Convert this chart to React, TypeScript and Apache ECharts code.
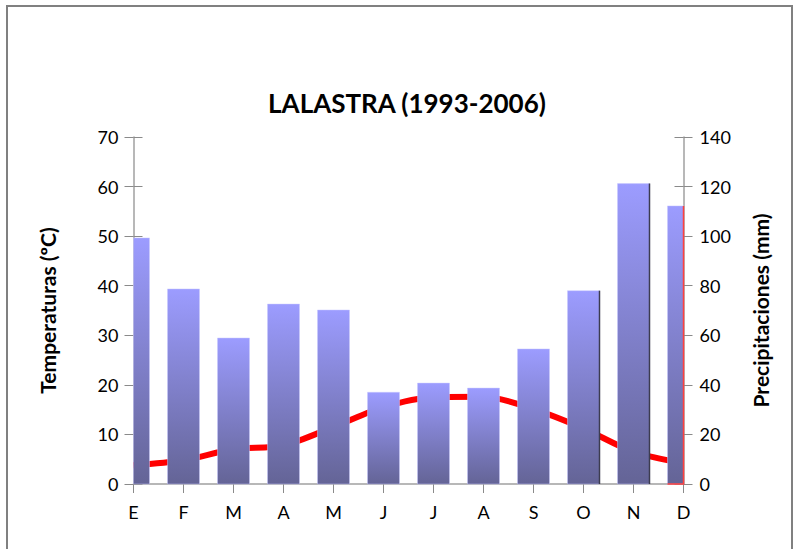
import React, { useEffect, useRef } from "react";
import * as echarts from "echarts";

// Climograph for Lalastra, monthly means 1993-2006
const months = ["E", "F", "M", "A", "M", "J", "J", "A", "S", "O", "N", "D"];
const precipitation = [99.3, 78.7, 58.9, 72.6, 70.2, 37.0, 40.7, 38.7, 54.5, 78.0, 121.2, 112.2];
const temperature = [3.8, 4.8, 7.0, 7.8, 11.5, 15.5, 17.5, 17.6, 15.1, 11.2, 6.5, 4.2];

// months whose bars carry a dark shadow edge on the right
const shadedMonths = [9, 10];

const FONT = "Lato, 'Open Sans', sans-serif";
const AXIS_GRAY = "#a0a0a0";
const TICK_GRAY = "#8a8a8a";

export default function App() {
  const ref = useRef<HTMLDivElement>(null);

  useEffect(() => {
    if (!ref.current) return;
    const chart = echarts.init(ref.current, undefined, { renderer: "svg" });

    const labelStyle = { color: "#000", fontFamily: FONT, fontSize: 18 };
    const nameStyle = { color: "#000", fontFamily: FONT, fontSize: 21, fontWeight: "bold" as const };

    // Bars centred on the month ticks, cut off at the plot edges
    const renderBar = (params: any, api: any) => {
      const idx = api.value(0);
      const top = api.coord([idx, api.value(1)]);
      const base = api.coord([idx, 0]);
      const w = api.size([1, 0])[0] * 0.64;
      const cs = params.coordSys;
      const rect = echarts.graphic.clipRectByRect(
        { x: top[0] - w / 2, y: top[1], width: w, height: base[1] - top[1] },
        { x: cs.x, y: cs.y, width: cs.width, height: cs.height }
      );
      if (!rect) return null;
      const children: any[] = [
        {
          type: "rect",
          shape: rect,
          style: {
            fill: new echarts.graphic.LinearGradient(0, 0, 0, 1, [
              { offset: 0, color: "#9c9cff" },
              { offset: 1, color: "#646496" },
            ]),
            stroke: "rgba(200,200,255,0.8)",
            lineWidth: 0.6,
          },
        },
      ];
      const right = rect.x + rect.width;
      if (shadedMonths.indexOf(params.dataIndex) >= 0) {
        children.push({
          type: "line",
          shape: { x1: right, y1: rect.y, x2: right, y2: rect.y + rect.height },
          style: { stroke: "#3c3c50", lineWidth: 1.5 },
        });
      }
      if (params.dataIndex === params.dataInsideLength - 1) {
        children.push({
          type: "polyline",
          shape: {
            points: [
              [right, rect.y],
              [right, rect.y + rect.height],
              [rect.x, rect.y + rect.height],
            ],
          },
          style: { stroke: "#ff4040", lineWidth: 1.5, fill: "none" },
        });
      }
      return { type: "group", children };
    };

    chart.setOption({
      animation: false,
      backgroundColor: "#fff",
      grid: { left: 133.5, right: 110.5, top: 137, bottom: 65, containLabel: false },
      graphic: [
        {
          type: "rect",
          shape: { x: 7, y: 6, width: 785, height: 600 },
          style: { fill: "none", stroke: "#808080", lineWidth: 2 },
          silent: true,
        },
        {
          type: "text",
          x: 407,
          y: 103,
          style: {
            text: "LALASTRA (1993-2006)",
            fontFamily: FONT,
            fontSize: 26,
            fontWeight: "bold",
            fill: "#000",
            textAlign: "center",
            textVerticalAlign: "middle",
          },
        },
      ],
      xAxis: {
        type: "category",
        data: months,
        boundaryGap: false,
        axisLine: { show: true, lineStyle: { color: AXIS_GRAY, width: 1.5 } },
        axisTick: { show: true, length: 9, lineStyle: { color: TICK_GRAY } },
        axisLabel: { ...labelStyle, margin: 19 },
        splitLine: { show: false },
      },
      yAxis: [
        {
          type: "value",
          position: "left",
          min: 0,
          max: 70,
          interval: 10,
          name: "Temperaturas (ºC)",
          nameLocation: "middle",
          nameRotate: 90,
          nameGap: 76,
          nameTextStyle: nameStyle,
          axisLine: { show: true, lineStyle: { color: AXIS_GRAY, width: 1.5 } },
          axisTick: { show: true, length: 9, lineStyle: { color: TICK_GRAY } },
          axisLabel: { ...labelStyle, margin: 15 },
          splitLine: { show: false },
        },
        {
          type: "value",
          position: "right",
          min: 0,
          max: 140,
          interval: 20,
          name: "Precipitaciones (mm)",
          nameLocation: "middle",
          nameRotate: 90,
          nameGap: 66,
          nameTextStyle: nameStyle,
          axisLine: { show: true, lineStyle: { color: AXIS_GRAY, width: 1.5 } },
          axisTick: { show: true, length: 9, lineStyle: { color: TICK_GRAY } },
          axisLabel: { ...labelStyle, margin: 16 },
          splitLine: { show: false },
        },
        // inner halves of the crossing tick marks
        {
          type: "value",
          position: "left",
          min: 0,
          max: 70,
          interval: 10,
          axisLine: { show: false },
          axisTick: { show: true, inside: true, length: 9, lineStyle: { color: TICK_GRAY } },
          axisLabel: { show: false },
          splitLine: { show: false },
        },
        {
          type: "value",
          position: "right",
          min: 0,
          max: 140,
          interval: 20,
          axisLine: { show: false },
          axisTick: { show: true, inside: true, length: 9, lineStyle: { color: TICK_GRAY } },
          axisLabel: { show: false },
          splitLine: { show: false },
        },
      ],
      series: [
        {
          name: "Temperaturas",
          type: "line",
          yAxisIndex: 0,
          data: temperature,
          smooth: 0.3,
          symbol: "none",
          z: 1,
          lineStyle: { color: "#ff0000", width: 6 },
        },
        {
          name: "Precipitaciones",
          type: "custom",
          yAxisIndex: 1,
          data: precipitation.map((v, i) => [i, v]),
          encode: { x: 0, y: 1 },
          renderItem: renderBar,
          z: 2,
        },
      ],
    });

    return () => chart.dispose();
  }, []);

  return (
    <div
      ref={ref}
      style={{ position: "fixed", left: 0, top: 0, width: 794, height: 549, background: "#fff" }}
    />
  );
}
